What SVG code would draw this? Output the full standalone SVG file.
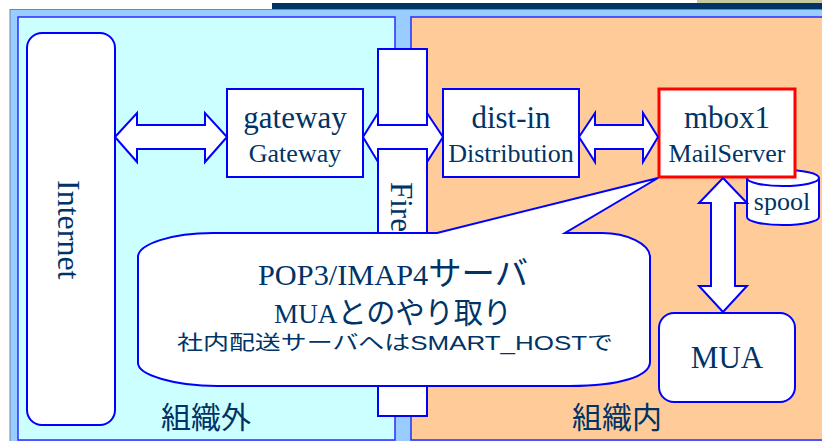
<svg xmlns="http://www.w3.org/2000/svg" width="822" height="441" viewBox="0 0 822 441">
<style>
.bx{fill:#ffffff;stroke:#0000ff;stroke-width:2}
.ar{fill:#ffffff;stroke:#0000ff;stroke-width:2;stroke-linejoin:miter}
.t{fill:#003366;font-family:"Liberation Serif","Noto Sans CJK JP",serif}
.j{fill:#003366;font-family:"Noto Sans CJK JP",sans-serif}
.s{fill:#003366;font-family:"Liberation Sans","Noto Sans CJK JP",sans-serif}
</style>
<rect x="0" y="0" width="822" height="441" fill="#ffffff"/>
<rect x="697" y="0" width="125" height="4" fill="#c8c89e"/>
<rect x="272" y="3" width="550" height="6.5" fill="#003366"/>
<g id="zones">
<rect x="10" y="9.5" width="830" height="440" fill="#99ccff" stroke="#6b86a6" stroke-width="1"/>
<rect x="18" y="17" width="377" height="423" fill="#ccffff" stroke="#2b2bff" stroke-width="1.5"/>
<rect x="411" y="17" width="430" height="423" fill="#ffcc99" stroke="#2b2bff" stroke-width="1.5"/>
<text class="j" x="161" y="428" font-size="30">組織外</text>
<text class="j" x="572" y="428" font-size="30">組織内</text>
</g>
<g id="internet">
<rect class="bx" x="27" y="33" width="88" height="392" rx="15"/>
<text class="t" transform="translate(58,180) rotate(90)" font-size="32">Internet</text>
</g>
<g id="firewall">
<rect class="bx" x="378" y="49" width="49" height="367"/>
<text class="t" transform="translate(391,182) rotate(90)" font-size="31">Fire</text>
</g>
<g id="gateway">
<rect class="bx" x="227" y="89" width="136" height="88"/>
<text class="t" x="295" y="128" font-size="31" text-anchor="middle">gateway</text>
<text class="t" x="295" y="162" font-size="26" text-anchor="middle">Gateway</text>
</g>
<g id="dist-in">
<rect class="bx" x="443" y="89" width="136" height="88"/>
<text class="t" x="511" y="128" font-size="31" text-anchor="middle">dist-in</text>
<text class="t" x="511" y="162" font-size="26" text-anchor="middle">Distribution</text>
</g>
<g id="spool">
<path class="bx" d="M747,178 V217 A36,8 0 0 0 819,217 V178 A36,8 0 0 0 747,178 Z"/>
<path d="M747,178 A36,8 0 0 0 819,178" fill="none" stroke="#0000ff" stroke-width="2"/>
<text class="t" x="782" y="210" font-size="26" text-anchor="middle">spool</text>
</g>
<g id="mbox1">
<rect x="659" y="89" width="136" height="88" fill="#ffffff" stroke="#ff0000" stroke-width="3"/>
<text class="t" x="727" y="128" font-size="31" text-anchor="middle">mbox1</text>
<text class="t" x="727" y="162" font-size="26" text-anchor="middle">MailServer</text>
</g>
<g id="mua">
<rect class="bx" x="659" y="313" width="136" height="89" rx="15"/>
<text class="t" x="727" y="368" font-size="31" text-anchor="middle">MUA</text>
</g>
<g id="connectors">
<path class="ar" d="M115,137 L137,113 L137,125 L205,125 L205,113 L227,137 L205,162 L205,149 L137,149 L137,162 Z"/>
<path class="ar" d="M363,137 L378,113 L378,125 L427,125 L427,113 L443,137 L427,162 L427,149 L378,149 L378,162 Z"/>
<path class="ar" d="M579,137 L595,113 L595,125 L643,125 L643,113 L658,137 L643,162 L643,149 L595,149 L595,162 Z"/>
<path class="ar" d="M723,178 L747,203 L735,203 L735,286 L747,286 L723,312 L699,286 L711,286 L711,203 L699,203 Z"/>
</g>
<g id="callout">
<path class="bx" d="M213,233 H437 L658,178 L565,233 H602 C627,233 650,244 650,257 V362 C650,376 620,386 570,386 H217 C175,386 138,375 138,363 V257 C138,244 172,233 213,233 Z"/>
<text class="t" x="258" y="285" textLength="270" lengthAdjust="spacingAndGlyphs"><tspan font-size="30">POP3/IMAP4</tspan><tspan font-size="33">サーバ</tspan></text>
<text class="t" x="274" y="323" textLength="238" lengthAdjust="spacingAndGlyphs"><tspan font-size="28">MUA</tspan><tspan font-size="30">とのやり取り</tspan></text>
<text class="s" x="177" y="350" font-size="20" textLength="436" lengthAdjust="spacingAndGlyphs">社内配送サーバへはSMART_HOSTで</text>
</g>
</svg>
